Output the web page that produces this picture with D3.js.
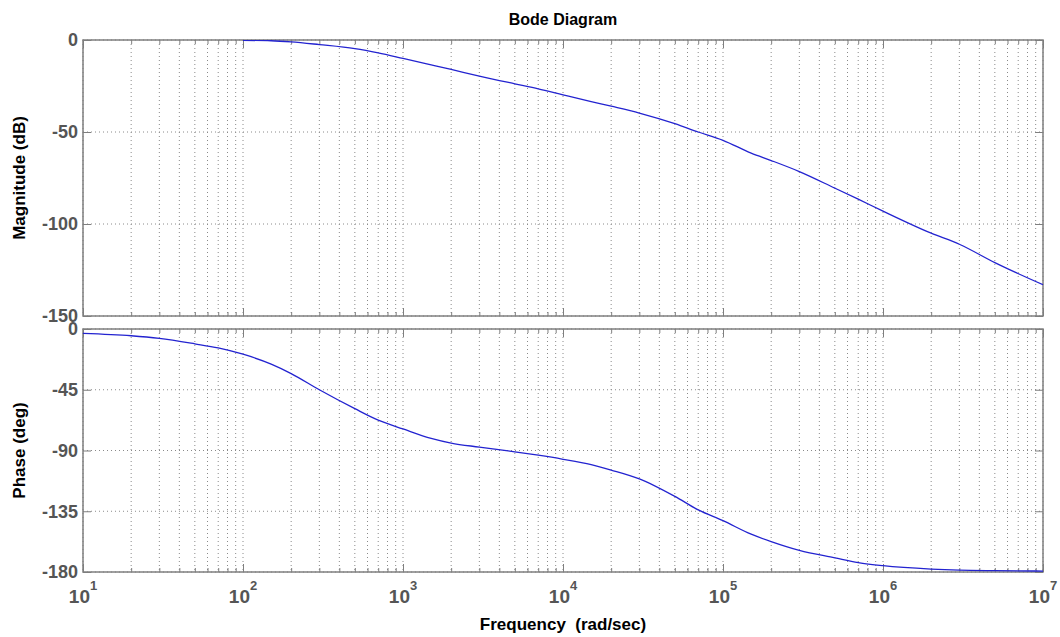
<!DOCTYPE html>
<html><head><meta charset="utf-8">
<script src="https://cdn.jsdelivr.net/npm/d3@7"></script>
<style>
body{margin:0;background:#fff;}
svg{display:block;font-family:"Liberation Sans",Arial,sans-serif;}
</style></head>
<body><svg id="c" width="1060" height="637"></svg>
<script>
// ---- data ----
const magFreq  = [100,150,200,300,500,700,1000,1500,2000,3000,5000,7000,1e4,1.5e4,2e4,3e4,5e4,7e4,1e5,1.5e5,2e5,3e5,5e5,7e5,1e6,2e6,3e6,5e6,1e7];
const magDb    = [-0.2,-0.4,-1,-2.5,-4.7,-7,-10,-13.5,-16,-19.6,-23.8,-26.5,-29.8,-33.5,-36,-39.7,-45.5,-50,-54.5,-61.5,-65.5,-71.5,-80.5,-86.5,-93,-105,-111,-121,-133];
const phFreq   = [10,20,30,50,70,100,150,200,300,500,700,1000,1500,2000,3000,5000,7000,1e4,1.5e4,2e4,3e4,5e4,7e4,1e5,1.5e5,2e5,3e5,5e5,7e5,1e6,2e6,3e6,5e6,1e7];
const phDeg    = [-3.2,-5,-7,-11,-14,-18.7,-26,-33,-45,-59,-67.5,-74,-81,-84.5,-87.5,-91,-93.5,-96.5,-100.5,-104.5,-111,-124,-134,-142,-152,-157.5,-164,-169.5,-173,-175.3,-177.8,-178.6,-179,-179.3];
const decades  = [1e1,1e2,1e3,1e4,1e5,1e6,1e7];
const decadeExp= [1,2,3,4,5,6,7];
const magTicks = [0,-50,-100,-150];
const phTicks  = [0,-45,-90,-135,-180];
const title = "Bode Diagram", magLabel = "Magnitude (dB)", phLabel = "Phase (deg)", xLabel = "Frequency  (rad/sec)";

// ---- layout ----
const svg = d3.select("#c");
const L = 83, R = 1043;
const x = d3.scaleLog().domain([10,1e7]).range([L,R]);
const yM = d3.scaleLinear().domain([-150,0]).range([316,40]);
const yP = d3.scaleLinear().domain([-180,0]).range([572,329]);
const minor = [];
for (let e=1;e<7;e++) for (let k=2;k<=9;k++) minor.push(k*Math.pow(10,e));
const axisCol = "#7f7f7f", gridCol = "#8a8a8a", labCol = "#555";

function panel(y, ticks, fy, yv, id){
  const [b,t] = y.range();
  const g = svg.append("g");
  // vertical grid
  g.selectAll(null).data(decades.concat(minor)).enter().append("line")
    .attr("x1",d=>x(d)).attr("x2",d=>x(d)).attr("y1",t).attr("y2",b)
    .attr("stroke",gridCol).attr("stroke-dasharray","1,3");
  // horizontal grid
  g.selectAll(null).data(ticks).enter().append("line")
    .attr("x1",L).attr("x2",R).attr("y1",d=>y(d)).attr("y2",d=>y(d))
    .attr("stroke",gridCol).attr("stroke-dasharray","1,3");
  // x ticks bottom/top (inward)
  const tk = (vals,len)=>{
    g.append("g").attr("transform",`translate(0,${b})`)
      .call(d3.axisTop(x).tickValues(vals).tickSize(len).tickFormat(""));
    g.append("g").attr("transform",`translate(0,${t})`)
      .call(d3.axisBottom(x).tickValues(vals).tickSize(len).tickFormat(""));
  };
  tk(decades,8); tk(minor,4);
  g.append("g").attr("transform",`translate(${L},0)`)
    .call(d3.axisRight(y).tickValues(ticks).tickSize(8).tickFormat(""));
  g.append("g").attr("transform",`translate(${R},0)`)
    .call(d3.axisLeft(y).tickValues(ticks).tickSize(8).tickFormat(""));
  g.selectAll(".domain").remove();
  g.selectAll(".tick line").attr("stroke",axisCol);
  g.append("rect").attr("x",L).attr("y",t).attr("width",R-L).attr("height",b-t)
    .attr("fill","none").attr("stroke",axisCol).attr("stroke-width",1.5);
  // y labels
  g.selectAll(null).data(ticks).enter().append("text")
    .attr("x",L-5).attr("y",d=>y(d)).attr("dy","0.35em").attr("text-anchor","end")
    .attr("font-size",18).attr("font-weight","bold").attr("fill",labCol).text(d=>d);
  // curve
  svg.append("clipPath").attr("id",id).append("rect").attr("x",L).attr("y",t).attr("width",R-L).attr("height",b-t);
  svg.append("path").datum(fy.map((f,i)=>[f,yv[i]]))
    .attr("clip-path",`url(#${id})`)
    .attr("d",d3.line().x(d=>x(d[0])).y(d=>y(d[1])).curve(d3.curveMonotoneX))
    .attr("fill","none").attr("stroke","#2323d0").attr("stroke-width",1.3);
}
panel(yM, magTicks, magFreq, magDb, "cm");
panel(yP, phTicks, phFreq, phDeg, "cp");

// x tick labels (10^n)
const xl = svg.selectAll(null).data(decades).enter().append("text")
  .attr("x",(d)=>x(d)).attr("y",603).attr("text-anchor","middle")
  .attr("font-size",19).attr("font-weight","bold").attr("fill",labCol);
xl.append("tspan").text("10");
xl.append("tspan").attr("dy",-13).attr("font-size",13).text((d,i)=>decadeExp[i]);

// titles
svg.append("text").attr("x",(L+R)/2).attr("y",25).attr("text-anchor","middle")
  .attr("font-size",16).attr("font-weight","bold").attr("fill","#000").text(title);
svg.append("text").attr("x",(L+R)/2).attr("y",630).attr("text-anchor","middle")
  .attr("font-size",17).attr("font-weight","bold").attr("fill","#000").attr("xml:space","preserve").style("white-space","pre").text(xLabel);
svg.append("text").attr("transform",`translate(25,${(40+316)/2}) rotate(-90)`).attr("text-anchor","middle")
  .attr("font-size",17).attr("font-weight","bold").attr("fill","#000").text(magLabel);
svg.append("text").attr("transform",`translate(25,${(329+572)/2}) rotate(-90)`).attr("text-anchor","middle")
  .attr("font-size",17).attr("font-weight","bold").attr("fill","#000").text(phLabel);
</script></body></html>
